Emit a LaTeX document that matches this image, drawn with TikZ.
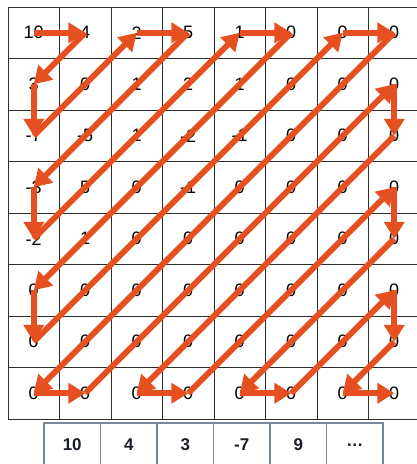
\documentclass[tikz,border=0pt]{standalone}
\usepackage{fontspec}
\setmainfont{Liberation Sans}
\usepackage{tikz}
\usetikzlibrary{arrows.meta, positioning}
\definecolor{zigred}{RGB}{230,80,32}
\definecolor{gridline}{RGB}{45,45,45}
\definecolor{outline}{RGB}{120,136,150}
\definecolor{outtext}{RGB}{25,30,40}

\begin{document}
\begin{tikzpicture}[
			x=1pt, y=-1pt,
			cell/.style={
					draw=gridline,
					line width=0.9pt,
					minimum size=51.5pt,
					inner sep=0pt,
					font=\fontsize{18}{20}\selectfont
				},
			outcell/.style={
					draw=outline,
					line width=1.1pt,
					minimum width=56.5pt,
					minimum height=44pt,
					inner sep=0pt,
					outer sep=0pt,
					text=outtext,
					font=\fontsize{17}{20}\selectfont\bfseries
				},
			zig/.style={
					draw=zigred,
					line width=6pt,
					-{Triangle[length=17pt 0 0, width=20pt 0 0]}
				}
		]
		\useasboundingbox (0,0) rectangle (417,464);
		\clip (0,0) rectangle (417,464);

		% 8x8 block, row by row
		\foreach \row [count=\r from 0] in {
				{10,4,2,5,1,0,0,0},
				{3,0,1,2,1,0,0,0},
				{-7,-5,1,-2,-1,0,0,0},
				{-3,5,0,-1,0,0,0,0},
				{-2,1,0,0,0,0,0,0},
				{0,0,0,0,0,0,0,0},
				{0,0,0,0,0,0,0,0},
				{0,0,0,0,0,0,0,0}}
			{
				\foreach \v [count=\c from 0] in \row
					\node[cell] (c\r\c) at (33.75+51.5*\c, 32.75+51.5*\r) {\v};
			}

		% zigzag scan
		\foreach \a/\b in {00/01, 01/10, 10/20, 20/02, 02/03, 03/30, 30/40, 40/04,
				04/05, 05/50, 50/60, 60/06, 06/07, 07/70, 70/71, 71/17,
				17/27, 27/72, 72/73, 73/37, 37/47, 47/74, 74/75, 75/57,
				57/67, 67/76, 76/77}
			\draw[zig] (c\a.center) -- (c\b.center);

		% resulting sequence
		\node[outcell] (o1) at (72.25, 445) {10};
		\node[outcell, right=0pt of o1] (o2) {4};
		\node[outcell, right=0pt of o2] (o3) {3};
		\node[outcell, right=0pt of o3] (o4) {-7};
		\node[outcell, right=0pt of o4] (o5) {9};
		\node[outcell, right=0pt of o5] (o6) {\dots};

	\end{tikzpicture}
\end{document}
